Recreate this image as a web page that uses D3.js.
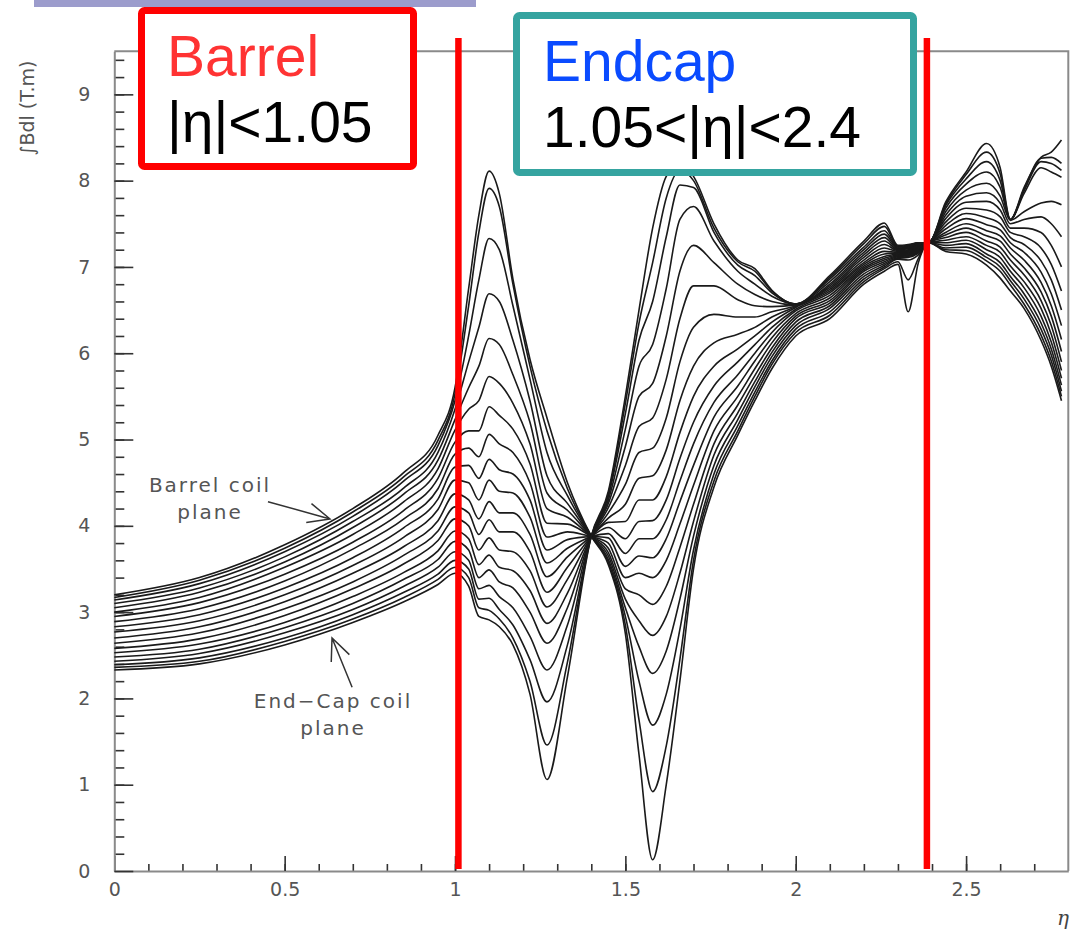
<!DOCTYPE html>
<html>
<head>
<meta charset="utf-8">
<script src="https://cdn.jsdelivr.net/npm/d3@7"></script>
<style>
  body { margin: 0; background: #fff; }
  svg { display: block; }
</style>
</head>
<body>
<svg id="chart" width="1071" height="931"></svg>
<script>
// field integral vs eta, one column per phi step (barrel coil plane -> end-cap coil plane)
var etaBarrel = [0, 0.25, 0.5, 0.7, 0.85, 0.95, 1.0];
var bdlBarrel = [
  [3.20, 3.17, 3.14, 3.10, 3.05, 3.00, 2.95, 2.89, 2.83, 2.77, 2.70, 2.64, 2.58, 2.53, 2.48, 2.43, 2.39, 2.36, 2.33],
  [3.40, 3.37, 3.33, 3.28, 3.23, 3.17, 3.11, 3.04, 2.97, 2.90, 2.83, 2.76, 2.69, 2.63, 2.57, 2.52, 2.47, 2.43, 2.40],
  [3.78, 3.74, 3.70, 3.64, 3.58, 3.52, 3.44, 3.36, 3.28, 3.20, 3.12, 3.04, 2.96, 2.88, 2.82, 2.76, 2.70, 2.66, 2.62],
  [4.20, 4.16, 4.11, 4.05, 3.98, 3.90, 3.81, 3.73, 3.63, 3.54, 3.45, 3.35, 3.27, 3.18, 3.10, 3.03, 2.97, 2.92, 2.88],
  [4.62, 4.57, 4.52, 4.44, 4.37, 4.28, 4.18, 4.08, 3.98, 3.87, 3.76, 3.66, 3.56, 3.46, 3.38, 3.30, 3.23, 3.17, 3.12],
  [5.05, 4.99, 4.93, 4.85, 4.76, 4.66, 4.55, 4.43, 4.31, 4.19, 4.06, 3.94, 3.83, 3.71, 3.61, 3.52, 3.44, 3.38, 3.32],
  [5.60, 5.53, 5.45, 5.35, 5.23, 5.11, 4.97, 4.83, 4.68, 4.53, 4.37, 4.22, 4.08, 3.94, 3.82, 3.70, 3.60, 3.52, 3.45]
];

var etaTransition = [1.04, 1.07, 1.10, 1.13, 1.17, 1.22, 1.27, 1.33, 1.40];
var bdlTransition = [
  [6.75, 6.55, 6.20, 5.90, 5.60, 5.35, 5.10, 4.90, 4.70, 4.50, 4.30, 4.15, 4.00, 3.85, 3.72, 3.60, 3.50, 3.40, 3.30],
  [7.60, 7.40, 6.85, 6.30, 5.85, 5.45, 5.10, 4.80, 4.55, 4.30, 4.08, 3.90, 3.72, 3.55, 3.40, 3.27, 3.15, 3.05, 2.95],
  [8.11, 7.91, 7.33, 6.69, 6.17, 5.73, 5.38, 5.06, 4.77, 4.53, 4.28, 4.07, 3.86, 3.66, 3.49, 3.31, 3.16, 3.02, 2.91],
  [7.85, 7.70, 7.20, 6.60, 6.10, 5.65, 5.28, 4.95, 4.65, 4.40, 4.15, 3.93, 3.72, 3.52, 3.35, 3.18, 3.03, 2.92, 2.83],
  [6.86, 6.80, 6.55, 6.15, 5.75, 5.42, 5.12, 4.85, 4.60, 4.38, 4.15, 3.93, 3.70, 3.48, 3.28, 3.05, 2.85, 2.70, 2.62],
  [5.93, 5.85, 5.70, 5.45, 5.20, 4.95, 4.72, 4.50, 4.30, 4.10, 3.90, 3.70, 3.48, 3.25, 3.00, 2.72, 2.45, 2.20, 2.05],
  [5.25, 5.10, 4.85, 4.58, 4.38, 4.20, 4.03, 3.87, 3.72, 3.57, 3.41, 3.23, 3.06, 2.87, 2.64, 2.33, 1.96, 1.46, 1.06],
  [4.50, 4.43, 4.35, 4.26, 4.18, 4.10, 4.02, 3.93, 3.84, 3.74, 3.64, 3.52, 3.38, 3.22, 3.05, 2.85, 2.62, 2.42, 2.25],
  [3.88, 3.88, 3.88, 3.88, 3.88, 3.88, 3.88, 3.88, 3.88, 3.88, 3.88, 3.88, 3.88, 3.88, 3.88, 3.88, 3.88, 3.88, 3.88]
];

var etaEndcap = [1.45, 1.50, 1.54, 1.58, 1.62, 1.66, 1.70, 1.76, 1.83, 1.88, 1.93, 2.00];
var bdlEndcap = [
  [3.55, 3.58, 3.61, 3.65, 3.69, 3.74, 3.80, 3.86, 3.91, 3.98, 4.04, 4.09, 4.15, 4.21, 4.26, 4.30, 4.34, 4.37, 4.40],
  [2.75, 2.85, 2.95, 3.05, 3.15, 3.27, 3.40, 3.53, 3.68, 3.85, 4.05, 4.25, 4.48, 4.70, 4.92, 5.12, 5.30, 5.42, 5.50],
  [1.35, 1.75, 2.20, 2.60, 2.90, 3.20, 3.45, 3.65, 3.85, 4.05, 4.30, 4.55, 4.85, 5.15, 5.50, 5.85, 6.15, 6.35, 6.50],
  [0.13, 0.92, 1.69, 2.29, 2.73, 3.09, 3.40, 3.63, 3.85, 4.06, 4.30, 4.58, 4.90, 5.25, 5.65, 6.10, 6.60, 7.05, 7.45],
  [1.00, 1.45, 2.05, 2.55, 2.95, 3.30, 3.60, 3.85, 4.07, 4.30, 4.57, 4.88, 5.25, 5.70, 6.20, 6.75, 7.35, 7.80, 8.05],
  [2.20, 2.45, 2.80, 3.15, 3.45, 3.75, 4.02, 4.28, 4.52, 4.78, 5.08, 5.45, 5.90, 6.40, 6.95, 7.55, 7.95, 8.12, 8.20],
  [3.50, 3.60, 3.72, 3.88, 4.05, 4.25, 4.47, 4.70, 4.95, 5.20, 5.50, 5.85, 6.30, 6.78, 7.25, 7.70, 7.92, 8.00, 8.05],
  [4.45, 4.52, 4.60, 4.70, 4.82, 4.95, 5.10, 5.26, 5.43, 5.62, 5.85, 6.12, 6.45, 6.78, 7.05, 7.30, 7.40, 7.45, 7.50],
  [5.05, 5.10, 5.16, 5.23, 5.31, 5.40, 5.50, 5.62, 5.75, 5.90, 6.05, 6.22, 6.42, 6.62, 6.80, 6.95, 7.02, 7.06, 7.08],
  [5.45, 5.50, 5.55, 5.61, 5.67, 5.74, 5.82, 5.91, 6.00, 6.10, 6.20, 6.30, 6.42, 6.55, 6.68, 6.80, 6.90, 6.95, 6.98],
  [5.82, 5.87, 5.91, 5.96, 6.01, 6.06, 6.12, 6.18, 6.24, 6.30, 6.36, 6.42, 6.48, 6.54, 6.60, 6.66, 6.70, 6.72, 6.73],
  [6.20, 6.24, 6.28, 6.32, 6.36, 6.40, 6.43, 6.46, 6.49, 6.51, 6.53, 6.54, 6.55, 6.56, 6.56, 6.57, 6.57, 6.57, 6.57]
];

var etaOverlap = [2.10, 2.20, 2.26, 2.30, 2.33, 2.36, 2.39];
var bdlOverlap = [
  [6.40, 6.44, 6.48, 6.52, 6.55, 6.58, 6.61, 6.64, 6.67, 6.70, 6.72, 6.74, 6.76, 6.78, 6.80, 6.83, 6.86, 6.88, 6.90],
  [6.80, 6.83, 6.86, 6.89, 6.92, 6.95, 6.97, 6.99, 7.01, 7.03, 7.05, 7.08, 7.11, 7.14, 7.17, 7.20, 7.23, 7.27, 7.30],
  [6.95, 6.98, 7.00, 7.02, 7.04, 7.06, 7.08, 7.10, 7.12, 7.15, 7.18, 7.22, 7.26, 7.30, 7.34, 7.38, 7.42, 7.47, 7.51],
  [7.03, 7.06, 7.09, 7.10, 7.11, 7.12, 7.13, 7.14, 7.15, 7.16, 7.17, 7.18, 7.19, 7.20, 7.21, 7.22, 7.23, 7.24, 7.25],
  [6.48, 6.85, 7.08, 7.11, 7.12, 7.13, 7.14, 7.15, 7.16, 7.17, 7.18, 7.19, 7.20, 7.21, 7.22, 7.23, 7.24, 7.25, 7.26],
  [7.05, 7.10, 7.14, 7.16, 7.17, 7.18, 7.19, 7.20, 7.21, 7.22, 7.23, 7.24, 7.25, 7.26, 7.27, 7.27, 7.28, 7.28, 7.28],
  [7.28, 7.28, 7.28, 7.28, 7.28, 7.28, 7.28, 7.28, 7.28, 7.28, 7.28, 7.28, 7.28, 7.28, 7.28, 7.28, 7.28, 7.28, 7.28]
];

var etaForward = [2.44, 2.50, 2.56, 2.60, 2.63, 2.67, 2.72, 2.75, 2.78];
var bdlForward = [
  [7.18, 7.20, 7.22, 7.25, 7.28, 7.31, 7.34, 7.37, 7.40, 7.44, 7.48, 7.52, 7.56, 7.60, 7.64, 7.68, 7.71, 7.73, 7.75],
  [7.15, 7.19, 7.23, 7.27, 7.31, 7.35, 7.40, 7.45, 7.50, 7.56, 7.62, 7.68, 7.75, 7.82, 7.89, 7.96, 8.02, 8.07, 8.10],
  [7.02, 7.07, 7.11, 7.15, 7.20, 7.25, 7.30, 7.36, 7.42, 7.49, 7.57, 7.66, 7.76, 7.86, 7.97, 8.10, 8.22, 8.33, 8.43],
  [6.87, 6.95, 7.00, 7.05, 7.11, 7.17, 7.23, 7.30, 7.36, 7.43, 7.50, 7.58, 7.66, 7.74, 7.82, 7.92, 8.00, 8.08, 8.15],
  [6.72, 6.79, 6.84, 6.89, 6.95, 7.01, 7.08, 7.15, 7.22, 7.28, 7.34, 7.40, 7.45, 7.50, 7.54, 7.55, 7.55, 7.55, 7.55],
  [6.52, 6.57, 6.63, 6.69, 6.76, 6.83, 6.91, 6.99, 7.08, 7.17, 7.26, 7.35, 7.45, 7.55, 7.64, 7.85, 7.88, 7.90, 7.92],
  [6.15, 6.21, 6.28, 6.35, 6.43, 6.52, 6.61, 6.71, 6.82, 6.94, 7.07, 7.22, 7.40, 7.58, 7.74, 8.15, 8.22, 8.26, 8.27],
  [5.85, 5.91, 5.98, 6.05, 6.13, 6.22, 6.32, 6.43, 6.55, 6.69, 6.85, 7.03, 7.25, 7.50, 7.76, 8.10, 8.20, 8.27, 8.33],
  [5.45, 5.50, 5.56, 5.63, 5.71, 5.80, 5.90, 6.02, 6.16, 6.32, 6.50, 6.72, 7.00, 7.35, 7.72, 8.04, 8.12, 8.20, 8.47]
];

// eta region boundaries (red markers)
var etaCuts = [1.01, 2.385];

var xTicksMajor = [0, 0.5, 1, 1.5, 2, 2.5];
var xTickLabels = ["0", "0.5", "1", "1.5", "2", "2.5"];
var yTicksMajor = [0, 1, 2, 3, 4, 5, 6, 7, 8, 9];

var svg = d3.select("#chart");

var x = d3.scaleLinear().domain([0, 2.8]).range([114.3, 1068.3]);
var y = d3.scaleLinear().domain([0, 9.5]).range([871, 51.2]);

// strip of the slide header above the plot
svg.append("rect")
  .attr("x", 34).attr("y", 0).attr("width", 442).attr("height", 7)
  .attr("fill", "#9c9ccc");

// frame (top and right)
svg.append("path")
  .attr("d", "M" + x(0) + "," + y(9.5) + "H" + x(2.8) + "V" + y(0))
  .attr("fill", "none").attr("stroke", "#8a8a8a").attr("stroke-width", 2);

// x axis: minor ticks then major ticks with labels
var xMinor = svg.append("g").attr("transform", "translate(0," + y(0) + ")")
  .call(d3.axisBottom(x).tickValues(d3.range(1, 28).map(function(d) { return d / 10; }))
    .tickSizeInner(-7).tickSizeOuter(0).tickFormat(""));
xMinor.select(".domain").remove();

var xAxis = svg.append("g").attr("transform", "translate(0," + y(0) + ")")
  .call(d3.axisBottom(x).tickValues(xTicksMajor)
    .tickSizeInner(-15).tickSizeOuter(0).tickPadding(12)
    .tickFormat(function(d, i) { return xTickLabels[i]; }));

var yMinor = svg.append("g").attr("transform", "translate(" + x(0) + ",0)")
  .call(d3.axisLeft(y).tickValues(d3.range(1, 48).map(function(d) { return d / 5; }))
    .tickSizeInner(-10).tickSizeOuter(0).tickFormat(""));
yMinor.select(".domain").remove();

var yAxis = svg.append("g").attr("transform", "translate(" + x(0) + ",0)")
  .call(d3.axisLeft(y).tickValues(yTicksMajor)
    .tickSizeInner(-19).tickSizeOuter(0).tickPadding(24)
    .tickFormat(d3.format("d")));

svg.selectAll(".domain").attr("stroke", "#8a8a8a").attr("stroke-width", 2);
svg.selectAll(".tick line").attr("stroke", "#333").attr("stroke-width", 1.6);
svg.selectAll(".tick text")
  .attr("font-family", "DejaVu Sans, sans-serif")
  .attr("font-size", 19)
  .attr("fill", "#555");

// axis titles
svg.append("text")
  .attr("transform", "translate(34,108) rotate(-90)")
  .attr("text-anchor", "middle")
  .attr("font-family", "DejaVu Sans, sans-serif")
  .attr("font-size", 19)
  .attr("fill", "#555")
  .text("\u222BBdl (T.m)");

svg.append("text")
  .attr("x", 1063).attr("y", 925)
  .attr("text-anchor", "middle")
  .attr("font-family", "DejaVu Serif, serif")
  .attr("font-style", "italic")
  .attr("font-size", 20)
  .attr("fill", "#444")
  .text("\u03B7");

// build one series per phi step
var etaAll = etaBarrel.concat(etaTransition, etaEndcap, etaOverlap, etaForward);
var rowsAll = bdlBarrel.concat(bdlTransition, bdlEndcap, bdlOverlap, bdlForward);
var series = d3.transpose(rowsAll).map(function(col) {
  return col.map(function(v, i) { return [etaAll[i], v]; });
});

var line = d3.line()
  .x(function(d) { return x(d[0]); })
  .y(function(d) { return y(d[1]); })
  .curve(d3.curveMonotoneX);

svg.append("g")
  .selectAll("path")
  .data(series)
  .enter()
  .append("path")
    .attr("d", line)
    .attr("fill", "none")
    .attr("stroke", "#1a1a1a")
    .attr("stroke-width", 1.6);

// annotations with arrows
var notes = [
  {lines: ["Barrel coil", "plane"], tx: 210, ty: 492, from: [0.451, 4.28], to: [0.633, 4.08]},
  {lines: ["End\u2212Cap coil", "plane"], tx: 333, ty: 708, from: [0.698, 2.13], to: [0.639, 2.70]}
];

notes.forEach(function(n) {
  var t = svg.append("text")
    .attr("text-anchor", "middle")
    .attr("font-family", "DejaVu Sans, sans-serif")
    .attr("font-size", 20)
    .attr("letter-spacing", 2)
    .attr("fill", "#555");
  n.lines.forEach(function(s, i) {
    t.append("tspan").attr("x", n.tx).attr("y", n.ty + i * 27).text(s);
  });
  var x1 = x(n.from[0]), y1 = y(n.from[1]), x2 = x(n.to[0]), y2 = y(n.to[1]);
  var ang = Math.atan2(y2 - y1, x2 - x1);
  var head = 24, spread = 0.42;
  svg.append("path")
    .attr("d", "M" + x1 + "," + y1 + "L" + x2 + "," + y2 +
      "M" + (x2 - head * Math.cos(ang - spread)) + "," + (y2 - head * Math.sin(ang - spread)) +
      "L" + x2 + "," + y2 +
      "L" + (x2 - head * Math.cos(ang + spread)) + "," + (y2 - head * Math.sin(ang + spread)))
    .attr("fill", "none").attr("stroke", "#333").attr("stroke-width", 1.5);
});

// region markers
svg.selectAll(".cut")
  .data(etaCuts)
  .enter()
  .append("line")
    .attr("class", "cut")
    .attr("x1", function(d) { return x(d); })
    .attr("x2", function(d) { return x(d); })
    .attr("y1", 38).attr("y2", 869)
    .attr("stroke", "#ff0000")
    .attr("stroke-width", 6.5);

// region boxes
var boxes = [
  {x: 141.5, y: 10.5, w: 272, h: 156, stroke: "#ff0000", title: "Barrel", titleColor: "#ff3333",
   range: "|\u03B7|<1.05", tx: 167, ty: 76},
  {x: 516.5, y: 15.5, w: 397, h: 157, stroke: "#35a4a0", title: "Endcap", titleColor: "#0a4bff",
   range: "1.05<|\u03B7|<2.4", tx: 543, ty: 81}
];

boxes.forEach(function(b) {
  svg.append("rect")
    .attr("x", b.x).attr("y", b.y).attr("width", b.w).attr("height", b.h)
    .attr("rx", 3)
    .attr("fill", "#fff")
    .attr("stroke", b.stroke).attr("stroke-width", 7);
  svg.append("text")
    .attr("x", b.tx).attr("y", b.ty)
    .attr("font-family", "Liberation Sans, Arial, sans-serif")
    .attr("font-size", 57)
    .attr("fill", b.titleColor)
    .text(b.title);
  svg.append("text")
    .attr("x", b.tx).attr("y", b.ty + 66)
    .attr("font-family", "Liberation Sans, Arial, sans-serif")
    .attr("font-size", 57)
    .attr("fill", "#000")
    .text(b.range);
});
</script>
</body>
</html>
